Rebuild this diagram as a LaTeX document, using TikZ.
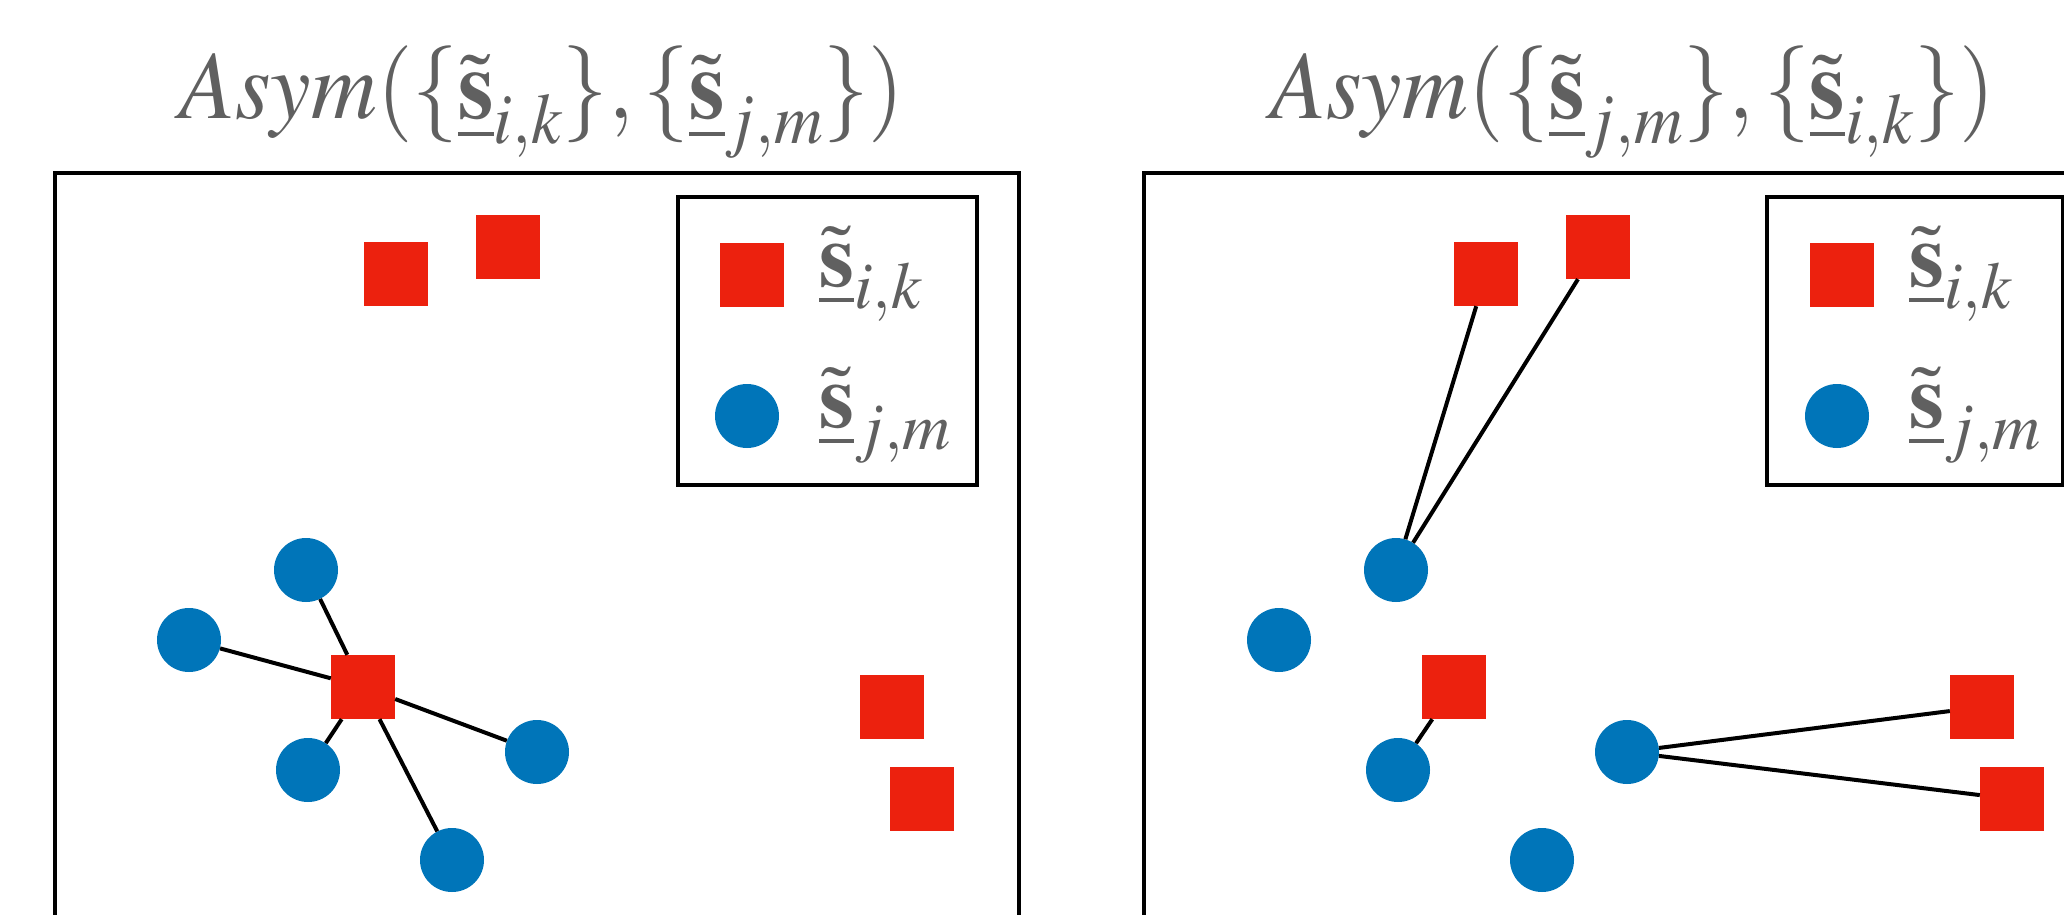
\documentclass[tikz,border=0pt]{standalone}
\usepackage{amsmath}
\IfFileExists{mathptmx.sty}{\usepackage{mathptmx}}{\usepackage{lmodern}}
\definecolor{sqred}{RGB}{236,33,14}
\definecolor{dotblue}{RGB}{0,117,185}
\definecolor{textgray}{RGB}{96,96,96}
\tikzset{
  redsq/.style={rectangle, fill=sqred, minimum size=64pt, inner sep=0pt},
  bluedot/.style={circle, fill=dotblue, minimum size=64pt, inner sep=0pt},
  link/.style={line width=4pt, black},
  panelframe/.style={line width=3.8pt, black},
  legframe/.style={line width=3.2pt, black},
  titlelbl/.style={text=textgray, font=\fontsize{97}{112}\selectfont, inner sep=0pt, anchor=base},
  leglbl/.style={text=textgray, font=\fontsize{90}{105}\selectfont, inner sep=0pt, anchor=base west}
}
\newcommand{\sik}{\underline{\tilde{\mathbf{s}}}_{i,k}}
\newcommand{\sjm}{\underline{\tilde{\mathbf{s}}}_{j,m}}
\begin{document}
\begin{tikzpicture}[x=1pt,y=-1pt]
\useasboundingbox (0,0) rectangle (2064,915);
\clip (0,0) rectangle (2064,915);
\fill[white] (0,0) rectangle (2064,915);

% titles
\node[titlelbl] (Ltitle) at (542,119) {\scalebox{0.94}[1]{$Asym(\{\sik\}, \{\sjm\})$}};
\node[titlelbl] (Rtitle) at (1633,119) {\scalebox{0.94}[1]{$Asym(\{\sjm\}, \{\sik\})$}};

% panel frames
\draw[panelframe] (55,173) rectangle (1019,1000);
\draw[panelframe] (1144,173) rectangle (2108,1000);

% legends
\draw[legframe] (678,197) rectangle (977,485);
\node[redsq] (Llegsq) at (752,275) {};
\node[bluedot] (Llegdot) at (747,416) {};
\node[leglbl] (Llegt1) at (819,286) {$\sik$};
\node[leglbl] (Llegt2) at (819,427) {$\sjm$};

\draw[legframe] (1767,197) rectangle (2063,485);
\node[redsq] (Rlegsq) at (1842,275) {};
\node[bluedot] (Rlegdot) at (1837,416) {};
\node[leglbl] (Rlegt1) at (1909,286) {$\sik$};
\node[leglbl] (Rlegt2) at (1909,427) {$\sjm$};

% left panel points
\node[redsq] (Ls1) at (396,274) {};
\node[redsq] (Ls2) at (508,247) {};
\node[redsq] (Lsc) at (363,687) {};
\node[redsq] (Ls3) at (892,707) {};
\node[redsq] (Ls4) at (922,799) {};
\node[bluedot] (LA) at (306,570) {};
\node[bluedot] (LB) at (189,640) {};
\node[bluedot] (LC) at (308,770) {};
\node[bluedot] (LD) at (537,752) {};
\node[bluedot] (LE) at (452,860) {};
\draw[link] (Lsc) -- (LA);
\draw[link] (Lsc) -- (LB);
\draw[link] (Lsc) -- (LC);
\draw[link] (Lsc) -- (LD);
\draw[link] (Lsc) -- (LE);

% right panel points
\node[redsq] (Rs1) at (1486,274) {};
\node[redsq] (Rs2) at (1598,247) {};
\node[redsq] (Rsc) at (1454,687) {};
\node[redsq] (Rs3) at (1982,707) {};
\node[redsq] (Rs4) at (2012,799) {};
\node[bluedot] (RA) at (1396,570) {};
\node[bluedot] (RB) at (1279,640) {};
\node[bluedot] (RC) at (1398,770) {};
\node[bluedot] (RD) at (1627,752) {};
\node[bluedot] (RE) at (1542,860) {};
\draw[link] (RA) -- (Rs1);
\draw[link] (RA) -- (Rs2);
\draw[link] (RC) -- (Rsc);
\draw[link] (RD) -- (Rs3);
\draw[link] (RD) -- (Rs4);
\end{tikzpicture}
\end{document}
